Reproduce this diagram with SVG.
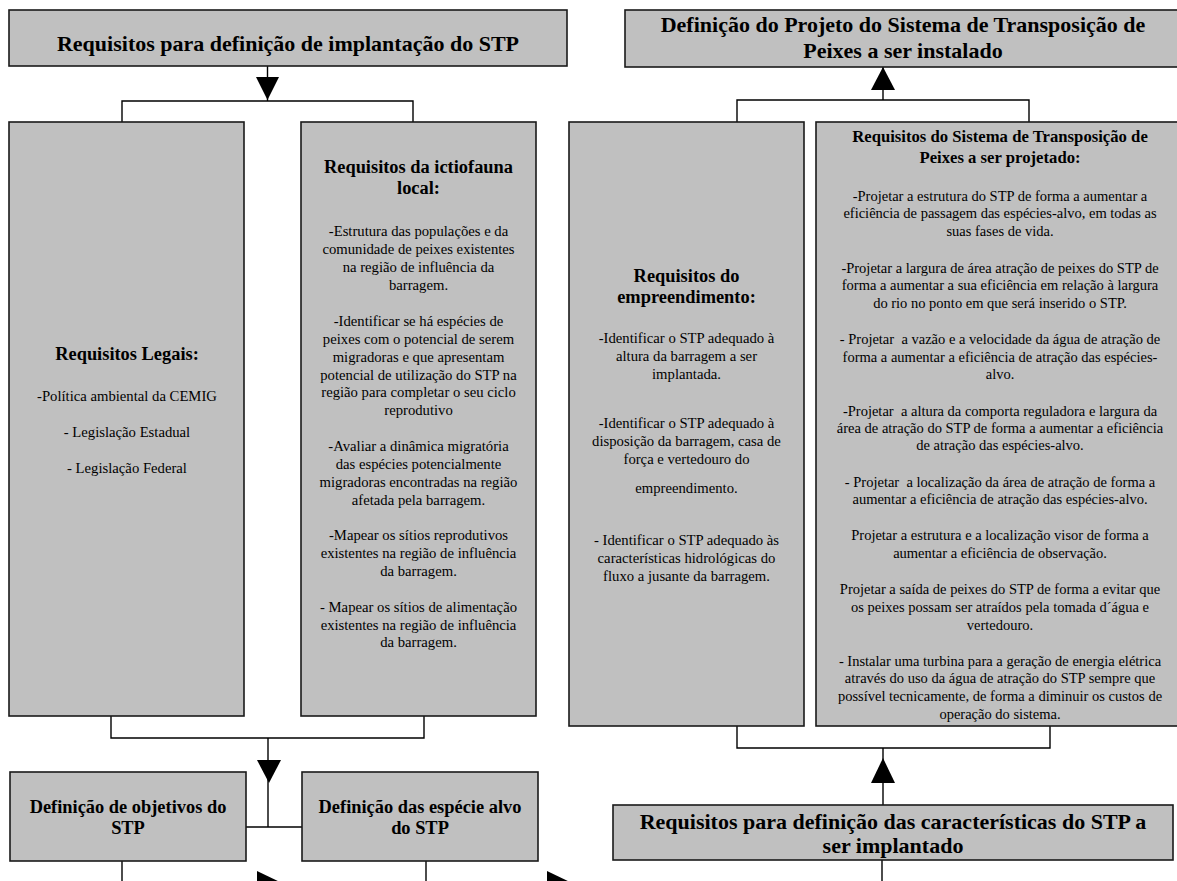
<svg xmlns="http://www.w3.org/2000/svg" width="1177" height="881" viewBox="0 0 1177 881">
<style>
.box{fill:#c0c0c0;stroke:#1a1a1a;stroke-width:1.6}
.ln{stroke:#000;stroke-width:1.4;fill:none}
.ah{fill:#000;stroke:none}
text{font-family:"Liberation Serif","Times New Roman",serif;fill:#000;text-anchor:middle}
.h{font-size:22px;font-weight:bold}
.t{font-size:18.4px;font-weight:bold}
.ts{font-size:16.7px;font-weight:bold}
.b{font-size:14.7px}
.bs{font-size:14.5px}
</style>
<rect width="1177" height="881" fill="#fff"/>
<g id="connectors">
<line class="ln" x1="267.5" y1="66" x2="267.5" y2="101"/>
<polygon class="ah" points="256,77 279,77 267.5,100"/>
<polyline class="ln" points="122,122 122,101 413,101 413,122"/>
<polyline class="ln" points="111,716 111,738 424,738 424,716"/>
<line class="ln" x1="268" y1="738" x2="268" y2="827"/>
<polygon class="ah" points="257,760 281,760 269,783"/>
<line class="ln" x1="246" y1="827" x2="302" y2="827"/>
<line class="ln" x1="122" y1="861" x2="122" y2="881"/>
<line class="ln" x1="426" y1="861" x2="426" y2="881"/>
<polygon class="ah" points="257,871 257,895 282,883"/>
<polygon class="ah" points="547,871 547,895 572,883"/>
<line class="ln" x1="883" y1="67" x2="883" y2="100"/>
<polygon class="ah" points="871,90 895,90 883,67"/>
<polyline class="ln" points="737,122 737,100 1029,100 1029,122"/>
<polyline class="ln" points="737,726 737,748 1050,748 1050,726"/>
<line class="ln" x1="883" y1="748" x2="883" y2="805"/>
<polygon class="ah" points="871,783 895,783 883,758"/>
<line class="ln" x1="882" y1="860" x2="882" y2="881"/>
</g>
<g id="n-req-implantacao">
<rect class="box" x="9" y="10" width="558" height="56"/>
<text class="h" x="288" y="51">Requisitos para definição de implantação do STP</text>
</g>
<g id="n-definicao-projeto">
<rect class="box" x="625" y="10" width="557" height="57"/>
<text class="h" x="903" y="32">Definição do Projeto do Sistema de Transposição de</text>
<text class="h" x="903" y="58">Peixes a ser instalado</text>
</g>
<g id="n-legais">
<rect class="box" x="9" y="122" width="235" height="594"/>
<text class="t" x="127" y="360">Requisitos Legais:</text>
<text class="b" x="127" y="401">-Política ambiental da CEMIG</text>
<text class="b" x="127" y="437">- Legislação Estadual</text>
<text class="b" x="127" y="473">- Legislação Federal</text>
</g>
<g id="n-ictiofauna">
<rect class="box" x="301" y="122" width="235" height="594"/>
<text class="t" x="418.5" y="173">Requisitos da ictiofauna</text>
<text class="t" x="418.5" y="194">local:</text>
<text class="b" x="418.5" y="236">-Estrutura das populações e da</text>
<text class="b" x="418.5" y="254">comunidade de peixes existentes</text>
<text class="b" x="418.5" y="272">na região de influência da</text>
<text class="b" x="418.5" y="290">barragem.</text>
<text class="b" x="418.5" y="326">-Identificar se há espécies de</text>
<text class="b" x="418.5" y="344">peixes com o potencial de serem</text>
<text class="b" x="418.5" y="362">migradoras e que apresentam</text>
<text class="b" x="418.5" y="380">potencial de utilização do STP na</text>
<text class="b" x="418.5" y="397">região para completar o seu ciclo</text>
<text class="b" x="418.5" y="415">reprodutivo</text>
<text class="b" x="418.5" y="451">-Avaliar a dinâmica migratória</text>
<text class="b" x="418.5" y="469">das espécies potencialmente</text>
<text class="b" x="418.5" y="487">migradoras encontradas na região</text>
<text class="b" x="418.5" y="505">afetada pela barragem.</text>
<text class="b" x="418.5" y="540">-Mapear os sítios reprodutivos</text>
<text class="b" x="418.5" y="558">existentes na região de influência</text>
<text class="b" x="418.5" y="576">da barragem.</text>
<text class="b" x="418.5" y="612">- Mapear os sítios de alimentação</text>
<text class="b" x="418.5" y="630">existentes na região de influência</text>
<text class="b" x="418.5" y="647">da barragem.</text>
</g>
<g id="n-empreendimento">
<rect class="box" x="569" y="122" width="235" height="604"/>
<text class="t" x="686.5" y="282">Requisitos do</text>
<text class="t" x="686.5" y="303">empreendimento:</text>
<text class="b" x="686.5" y="343">-Identificar o STP adequado à</text>
<text class="b" x="686.5" y="361">altura da barragem a ser</text>
<text class="b" x="686.5" y="379">implantada.</text>
<text class="b" x="686.5" y="428">-Identificar o STP adequado à</text>
<text class="b" x="686.5" y="446">disposição da barragem, casa de</text>
<text class="b" x="686.5" y="464">força e vertedouro do</text>
<text class="b" x="686.5" y="493">empreendimento.</text>
<text class="b" x="686.5" y="545">- Identificar o STP adequado às</text>
<text class="b" x="686.5" y="563">características hidrológicas do</text>
<text class="b" x="686.5" y="581">fluxo a jusante da barragem.</text>
</g>
<g id="n-sistema">
<rect class="box" x="816" y="122" width="369" height="604"/>
<text class="ts" x="1000" y="142">Requisitos do Sistema de Transposição de</text>
<text class="ts" x="1000" y="163">Peixes a ser projetado:</text>
<text class="bs" x="1000" y="201">-Projetar a estrutura do STP de forma a aumentar a</text>
<text class="bs" x="1000" y="218">eficiência de passagem das espécies-alvo, em todas as</text>
<text class="bs" x="1000" y="236">suas fases de vida.</text>
<text class="bs" x="1000" y="273">-Projetar a largura de área atração de peixes do STP de</text>
<text class="bs" x="1000" y="290">forma a aumentar a sua eficiência em relação à largura</text>
<text class="bs" x="1000" y="308">do rio no ponto em que será inserido o STP.</text>
<text class="bs" x="1000" y="344" xml:space="preserve">- Projetar  a vazão e a velocidade da água de atração de</text>
<text class="bs" x="1000" y="362">forma a aumentar a eficiência de atração das espécies-</text>
<text class="bs" x="1000" y="379">alvo.</text>
<text class="bs" x="1000" y="416" xml:space="preserve">-Projetar  a altura da comporta reguladora e largura da</text>
<text class="bs" x="1000" y="433">área de atração do STP de forma a aumentar a eficiência</text>
<text class="bs" x="1000" y="450">de atração das espécies-alvo.</text>
<text class="bs" x="1000" y="487" xml:space="preserve">- Projetar  a localização da área de atração de forma a</text>
<text class="bs" x="1000" y="504">aumentar a eficiência de atração das espécies-alvo.</text>
<text class="bs" x="1000" y="540">Projetar a estrutura e a localização visor de forma a</text>
<text class="bs" x="1000" y="558">aumentar a eficiência de observação.</text>
<text class="bs" x="1000" y="594">Projetar a saída de peixes do STP de forma a evitar que</text>
<text class="bs" x="1000" y="612">os peixes possam ser atraídos pela tomada d´água e</text>
<text class="bs" x="1000" y="630">vertedouro.</text>
<text class="bs" x="1000" y="666">- Instalar uma turbina para a geração de energia elétrica</text>
<text class="bs" x="1000" y="683">através do uso da água de atração do STP sempre que</text>
<text class="bs" x="1000" y="701">possível tecnicamente, de forma a diminuir os custos de</text>
<text class="bs" x="1000" y="719">operação do sistema.</text>
</g>
<g id="n-objetivos">
<rect class="box" x="10" y="772" width="236" height="89"/>
<text class="t" x="128" y="813">Definição de objetivos do</text>
<text class="t" x="128" y="834">STP</text>
</g>
<g id="n-especie">
<rect class="box" x="302" y="772" width="236" height="89"/>
<text class="t" x="420" y="813">Definição das espécie alvo</text>
<text class="t" x="420" y="834">do STP</text>
</g>
<g id="n-req-caracteristicas">
<rect class="box" x="613" y="805" width="560" height="55"/>
<text class="h" x="893" y="829">Requisitos para definição das características do STP a</text>
<text class="h" x="893" y="853">ser implantado</text>
</g>
</svg>
